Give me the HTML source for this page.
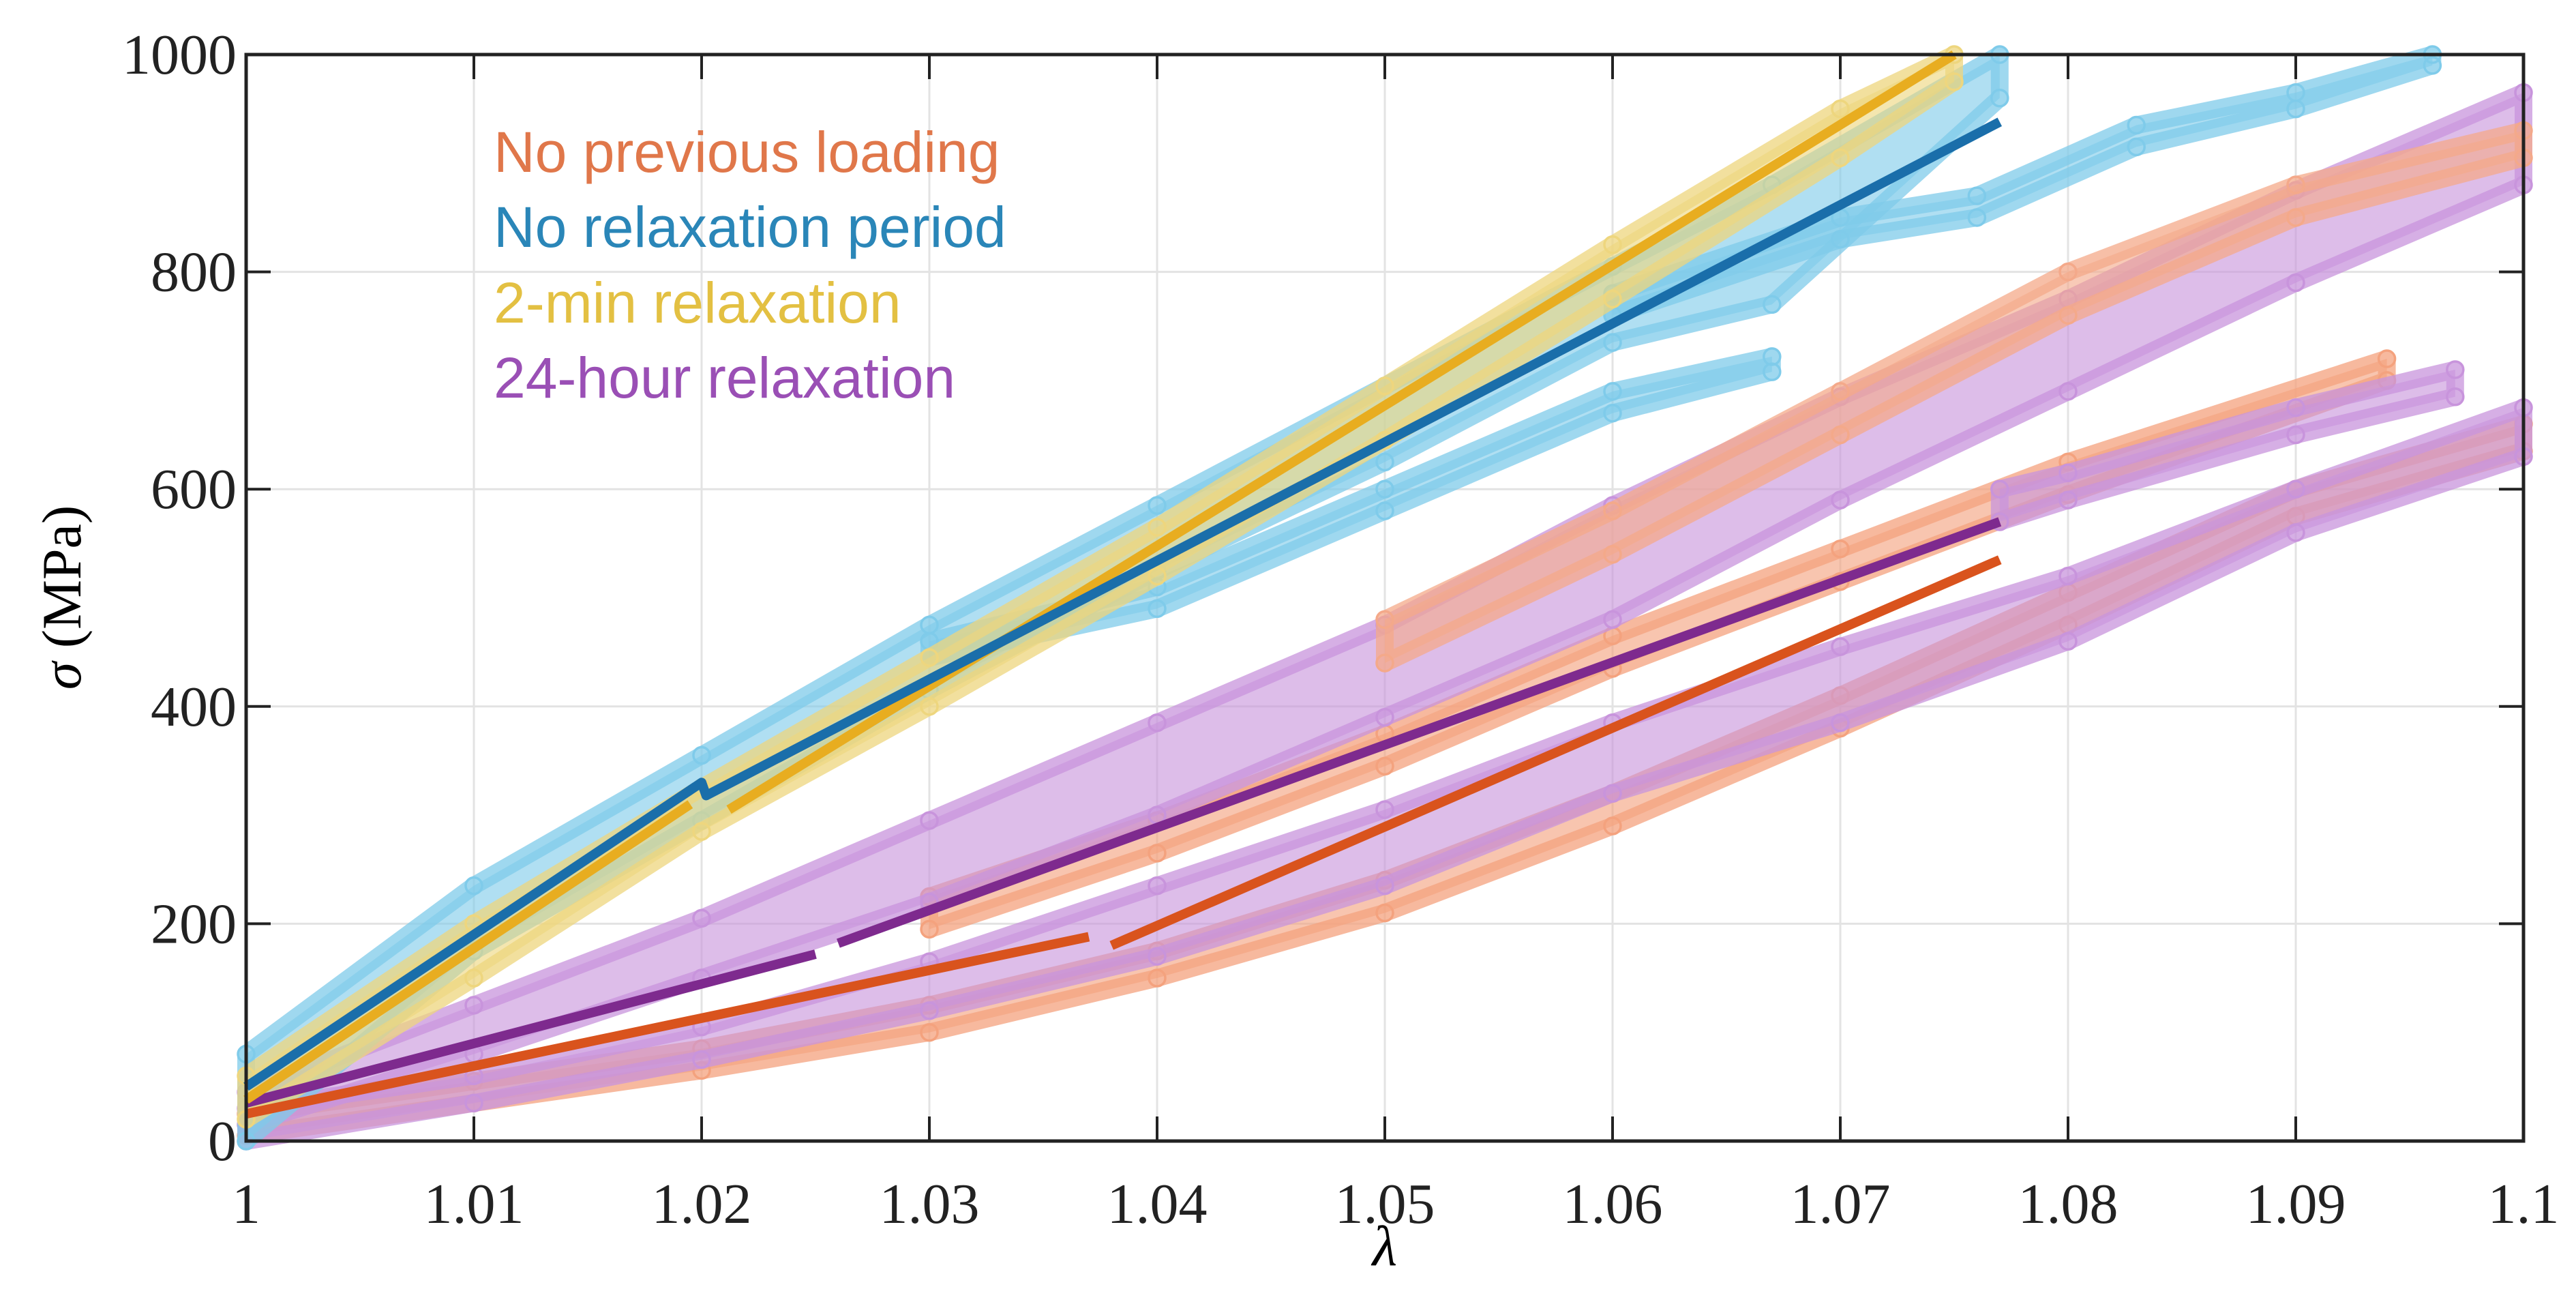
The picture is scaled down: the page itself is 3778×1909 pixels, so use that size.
<!DOCTYPE html>
<html><head><meta charset="utf-8"><style>
html,body{margin:0;padding:0;background:#fff;}
svg{display:block;}
</style></head><body>
<svg id="chart" width="3778" height="1909" viewBox="0 0 3778 1909" xmlns="http://www.w3.org/2000/svg">
<rect width="3778" height="1909" fill="#fff"/>
<g id="grid"></g>
<g id="bands"></g>
<g id="lines"></g>
<g id="axes"></g>
<g font-family="Liberation Sans, Arial, sans-serif" font-size="84">
<text x="724" y="252" fill="#e0774a">No previous loading</text>
<text x="724" y="362" fill="#2a86b8">No relaxation period</text>
<text x="724" y="473" fill="#e3c042">2-min relaxation</text>
<text x="724" y="583" fill="#9a4fb5">24-hour relaxation</text>
</g>
<text x="2031" y="1855" font-family="Liberation Serif, serif" font-style="italic" font-size="84" text-anchor="middle">λ</text>
<text transform="translate(118,876) rotate(-90)" font-family="Liberation Serif, serif" font-size="82" text-anchor="middle"><tspan font-style="italic">σ</tspan> (MPa)</text>
</svg>
<script>
const xTicks=[1,1.01,1.02,1.03,1.04,1.05,1.06,1.07,1.08,1.09,1.1];
const xTickLabels=["1","1.01","1.02","1.03","1.04","1.05","1.06","1.07","1.08","1.09","1.1"];
const yTicks=[0,200,400,600,800,1000];
const yTickLabels=["0","200","400","600","800","1000"];

// scatter bands: lambda, upper, lower
const blueLam=[1,1.01,1.02,1.03,1.04,1.05,1.06,1.067,1.077];
const blueUp=[80,235,355,475,585,695,805,880,1000];
const blueLo=[0,175,295,415,525,625,735,770,960];
const blue2Lam=[1.03,1.04,1.05,1.06,1.067];
const blue2Up=[460,510,600,690,722];
const blue2Lo=[445,490,580,670,708];
const blue3Lam=[1.06,1.07,1.076,1.083,1.09,1.096];
const blue3Up=[780,850,870,935,965,1000];
const blue3Lo=[760,830,850,915,950,990];
const yelLam=[1,1.01,1.02,1.03,1.04,1.05,1.06,1.07,1.075];
const yelUp=[60,200,325,445,565,695,825,950,1000];
const yelLo=[20,150,285,400,520,645,775,905,975];
const purALam=[1,1.01,1.02,1.03,1.04,1.05,1.06,1.07,1.08,1.09,1.1];
const purAUp=[45,125,205,295,385,475,585,685,775,875,965];
const purALo=[15,80,150,220,300,390,480,590,690,790,880];
const purBLam=[1,1.01,1.02,1.03,1.04,1.05,1.06,1.07,1.08,1.09,1.1];
const purBUp=[30,60,105,165,235,305,385,455,520,600,675];
const purBLo=[0,35,75,120,170,235,320,385,460,560,630];
const purCLam=[1.077,1.08,1.09,1.097];
const purCUp=[600,615,675,710];
const purCLo=[570,590,650,685];
const orALam=[1,1.01,1.02,1.03,1.04,1.05,1.06,1.07,1.08,1.09,1.1];
const orAUp=[25,55,85,125,175,240,320,410,505,600,660];
const orALo=[5,35,65,100,150,210,290,380,475,575,635];
const orBLam=[1.03,1.04,1.05,1.06,1.07,1.08,1.094];
const orBUp=[225,295,375,465,545,625,720];
const orBLo=[195,265,345,435,515,595,700];
const orCLam=[1.05,1.06,1.07,1.08,1.09,1.1];
const orCUp=[480,580,690,800,880,930];
const orCLo=[440,540,650,760,850,905];

// mean lines (segments)
const blueLineLam=[1,1.02,1.0202,1.077];
const blueLineVal=[50,330,318,938];
const yelLine1Lam=[1,1.0195];const yelLine1Val=[38,310];
const yelLine2Lam=[1.0212,1.075];const yelLine2Val=[305,1000];
const purLine1Lam=[1,1.025];const purLine1Val=[35,172];
const purLine2Lam=[1.026,1.077];const purLine2Val=[182,570];
const orLine1Lam=[1,1.037];const orLine1Val=[25,188];
const orLine2Lam=[1.038,1.077];const orLine2Val=[180,535];

const L=361,R=3701,T=80,B=1673;
const X=v=>L+(v-1)/0.1*(R-L);
const Y=v=>B-v/1000*(B-T);
const NS="http://www.w3.org/2000/svg";
function mk(tag,attrs,parent){const e=document.createElementNS(NS,tag);for(const k in attrs)e.setAttribute(k,attrs[k]);parent.appendChild(e);return e;}

const grid=document.getElementById('grid');
xTicks.forEach(t=>{const l=mk('line',{x1:X(t),x2:X(t),y1:T,y2:B,stroke:'#e3e3e3','stroke-width':3},grid);

});
yTicks.forEach(t=>{const l=mk('line',{x1:L,x2:R,y1:Y(t),y2:Y(t),stroke:'#e3e3e3','stroke-width':3},grid);

});

const bands=document.getElementById('bands');
function band(lam,up,lo,col,name){
  let pts=lam.map((v,i)=>X(v)+','+Y(up[i]));
  for(let i=lam.length-1;i>=0;i--)pts.push(X(lam[i])+','+Y(lo[i]));
  const p=mk('polygon',{points:pts.join(' '),fill:col,'fill-opacity':0.62,stroke:col,'stroke-width':26,'stroke-opacity':0.75,'stroke-linejoin':'round'},bands);
  
  
  lam.forEach((v,i)=>{[up[i],lo[i]].forEach(s=>{
    const c=mk('circle',{cx:X(v),cy:Y(s),r:12,fill:'none',stroke:col,'stroke-width':3.5},bands);
    
    
  });});
}
band(orALam,orAUp,orALo,'#f4a27e','no-previous-loading-a');
band(orBLam,orBUp,orBLo,'#f4a27e','no-previous-loading-b');
band(purBLam,purBUp,purBLo,'#c894dc','24-hour-b');
band(purALam,purAUp,purALo,'#c894dc','24-hour-a');
band(purCLam,purCUp,purCLo,'#c894dc','24-hour-c');
band(orCLam,orCUp,orCLo,'#f4a98a','no-previous-loading-c');
band(blueLam,blueUp,blueLo,'#7fcbea','no-relaxation-a');
band(blue2Lam,blue2Up,blue2Lo,'#7fcbea','no-relaxation-b');
band(blue3Lam,blue3Up,blue3Lo,'#7fcbea','no-relaxation-c');
band(yelLam,yelUp,yelLo,'#eed67e','2-min');

const lines=document.getElementById('lines');
function line(lam,val,col,name){
  const p=mk('polyline',{points:lam.map((v,i)=>X(v)+','+Y(val[i])).join(' '),fill:'none',stroke:col,'stroke-width':14,'stroke-linejoin':'round'},lines);
  
  
}
line(orLine1Lam,orLine1Val,'#d9531d','no-previous-loading-mean-1');
line(orLine2Lam,orLine2Val,'#d9531d','no-previous-loading-mean-2');
line(purLine1Lam,purLine1Val,'#7e2a8e','24-hour-mean-1');
line(purLine2Lam,purLine2Val,'#7e2a8e','24-hour-mean-2');
line(yelLine1Lam,yelLine1Val,'#e8ad20','2-min-mean-1');
line(yelLine2Lam,yelLine2Val,'#e8ad20','2-min-mean-2');
line(blueLineLam,blueLineVal,'#1a6eaa','no-relaxation-mean');

const axes=document.getElementById('axes');
const box=mk('rect',{x:L,y:T,width:R-L,height:B-T,fill:'none',stroke:'#222','stroke-width':5},axes);


xTicks.forEach((t,i)=>{
  mk('line',{x1:X(t),x2:X(t),y1:B,y2:B-36,stroke:'#222','stroke-width':4},axes);
  mk('line',{x1:X(t),x2:X(t),y1:T,y2:T+36,stroke:'#222','stroke-width':4},axes);
  const tx=mk('text',{x:X(t),y:B+120,'font-family':'Liberation Serif, serif','font-size':84,'text-anchor':'middle',fill:'#222'},axes);
  tx.textContent=xTickLabels[i];
  
  
});
yTicks.forEach((t,i)=>{
  mk('line',{x1:L,x2:L+36,y1:Y(t),y2:Y(t),stroke:'#222','stroke-width':4},axes);
  mk('line',{x1:R,x2:R-36,y1:Y(t),y2:Y(t),stroke:'#222','stroke-width':4},axes);
  const tx=mk('text',{x:L-14,y:Y(t)+28,'font-family':'Liberation Serif, serif','font-size':84,'text-anchor':'end',fill:'#222'},axes);
  tx.textContent=yTickLabels[i];
  
  
});
</script>
</body></html>
